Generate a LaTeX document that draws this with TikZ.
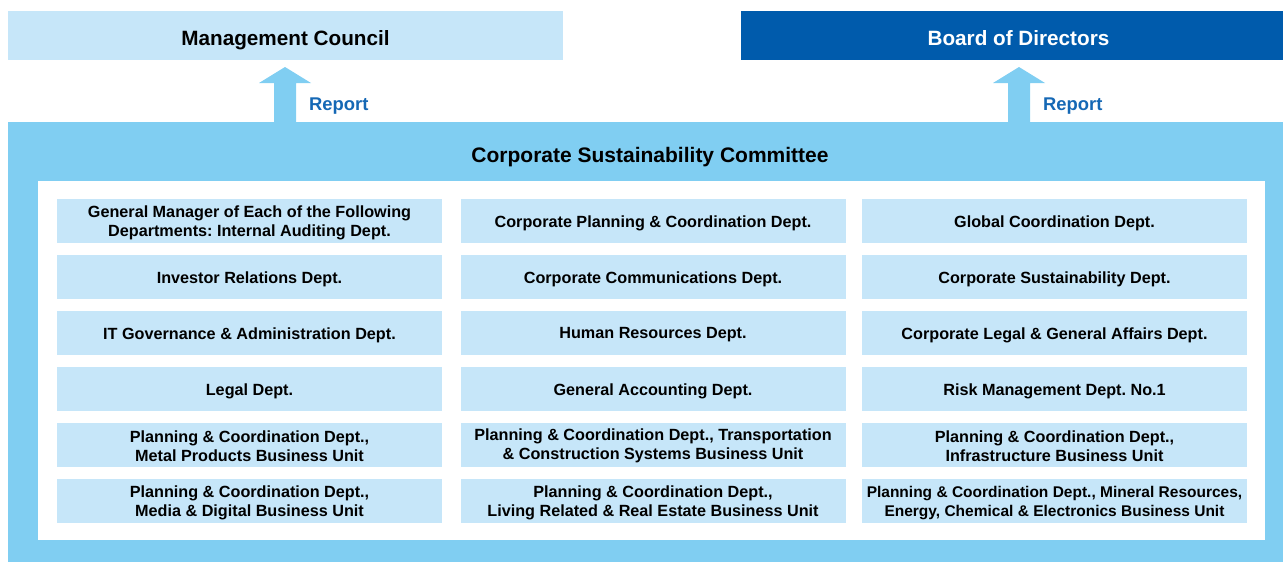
\documentclass[tikz,border=0pt]{standalone}
\usepackage{fontspec}
\setmainfont{Liberation Sans}
\frenchspacing
\definecolor{lightcell}{HTML}{C6E6F9}
\definecolor{panelcyan}{HTML}{80CEF2}
\definecolor{darkblue}{HTML}{005BAC}
\definecolor{reportblue}{HTML}{1568B5}
\begin{document}
\begin{tikzpicture}[x=1pt,y=-1pt,
  cellbg/.style={fill=lightcell,minimum width=385pt,minimum height=44pt,inner sep=0pt},
  celltext/.style={inner sep=0pt,align=center,font=\fontsize{16.2}{18.5}\selectfont\bfseries},
  topbox/.style={minimum height=49pt,inner sep=0pt},
  toptext/.style={inner sep=0pt,anchor=base,font=\fontsize{20.7}{24}\selectfont\bfseries},
  reportlbl/.style={text=reportblue,font=\fontsize{18.4}{21}\selectfont\bfseries,anchor=base west,inner sep=0pt},
  blockarrow/.style={fill=panelcyan}]
\useasboundingbox (0,0) rectangle (1283,562);
% top boxes
\node[topbox,fill=lightcell,minimum width=555pt] (mc) at (285.5,35.5) {};
\node[topbox,fill=darkblue,minimum width=542pt] (bd) at (1012,35.5) {};
\node[toptext] (mct) at (285.5,45) {Management Council};
\node[toptext,text=white] (bdt) at (1018.5,45) {Board of Directors};
% panel
\fill[panelcyan] (8,122) rectangle (1283,562);
\node[inner sep=0pt,anchor=base,font=\fontsize{21}{24}\selectfont\bfseries] (csc) at (650,162) {Corporate Sustainability Committee};
\fill[white] (38,181) rectangle (1265,540);
% arrows
\fill[blockarrow] (274,122) -- (274,83) -- (259,83) -- (285,67) -- (311,83) -- (296,83) -- (296,122) -- cycle;
\fill[blockarrow] (1008,122) -- (1008,83) -- (993,83) -- (1019,67) -- (1045,83) -- (1030,83) -- (1030,122) -- cycle;
\node[reportlbl] (r1) at (309,110) {Report};
\node[reportlbl] (r2) at (1043,110) {Report};
% cells
\foreach \col/\cx in {a/249.5,b/653,c/1054.5}{
  \foreach \row/\cy in {1/221,2/277,3/333,4/389,5/445,6/501}{
    \node[cellbg] (\col\row) at (\cx,\cy) {};
  }
}
\node[celltext] at ([yshift=-2pt]a1.center) {General Manager of Each of the Following\\Departments: Internal Auditing Dept.};
\node[celltext] at ([yshift=-2pt]b1.center) {Corporate Planning \& Coordination Dept.};
\node[celltext] at ([yshift=-2pt]c1.center) {Global Coordination Dept.};
\node[celltext] at ([yshift=-2pt]a2.center) {Investor Relations Dept.};
\node[celltext] at ([yshift=-2pt]b2.center) {Corporate Communications Dept.};
\node[celltext] at ([yshift=-2pt]c2.center) {Corporate Sustainability Dept.};
\node[celltext] at ([yshift=-2pt]a3.center) {IT Governance \& Administration Dept.};
\node[celltext] at ([yshift=-2pt]b3.center) {Human Resources Dept.};
\node[celltext] at ([yshift=-2pt]c3.center) {Corporate Legal \& General Affairs Dept.};
\node[celltext] at ([yshift=-2pt]a4.center) {Legal Dept.};
\node[celltext] at ([yshift=-2pt]b4.center) {General Accounting Dept.};
\node[celltext] at ([yshift=-2pt]c4.center) {Risk Management Dept. No.1};
\node[celltext] at ([yshift=-1pt]a5.center) {Planning \& Coordination Dept.,\\Metal Products Business Unit};
\node[celltext] at ([yshift=-1pt]b5.center) {Planning \& Coordination Dept., Transportation\\\& Construction Systems Business Unit};
\node[celltext] at ([yshift=-1pt]c5.center) {Planning \& Coordination Dept.,\\Infrastructure Business Unit};
\node[celltext] at ([yshift=-2pt]a6.center) {Planning \& Coordination Dept.,\\Media \& Digital Business Unit};
\node[celltext] at ([yshift=-2pt]b6.center) {Planning \& Coordination Dept.,\\Living Related \& Real Estate Business Unit};
\node[celltext,font=\fontsize{15.5}{18.5}\selectfont\bfseries] at ([yshift=-2pt]c6.center) {Planning \& Coordination Dept., Mineral Resources,\\Energy, Chemical \& Electronics Business Unit};
\end{tikzpicture}
\end{document}
